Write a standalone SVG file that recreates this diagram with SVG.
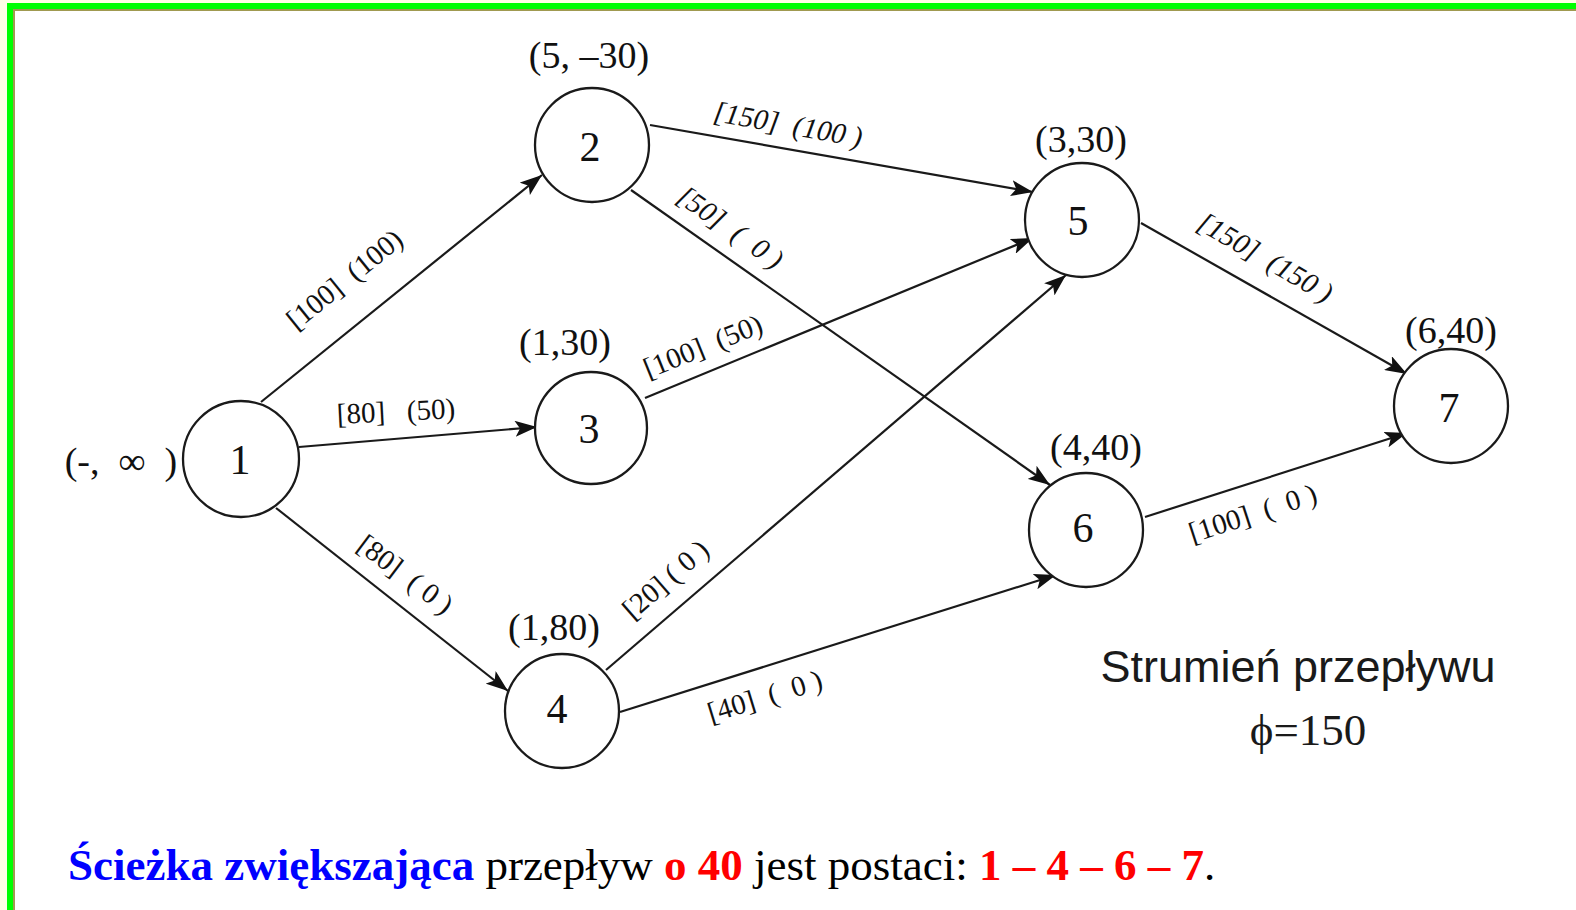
<svg xmlns="http://www.w3.org/2000/svg" width="1576" height="910" viewBox="0 0 1576 910">
<defs>
<style>
.node circle{fill:#fff;stroke:#1a1a1a;stroke-width:2.3}
.num{font-family:"Liberation Serif","Times New Roman",serif;font-size:42px;fill:#111;text-anchor:middle}
.ann{font-family:"Liberation Serif","Times New Roman",serif;font-size:38px;fill:#111;text-anchor:middle}
.el{font-family:"Liberation Serif","Times New Roman",serif;font-size:29px;fill:#111;text-anchor:middle}
.it{font-style:italic}
#edges line{stroke:#1a1a1a;stroke-width:2.2;marker-end:url(#arr)}
</style>
<marker id="arr" markerUnits="userSpaceOnUse" markerWidth="24" markerHeight="16" refX="22" refY="8" orient="auto">
<path d="M0,0 L22,8 L0,16 L5,8 z" fill="#111"/>
</marker>
</defs>
<rect x="0" y="0" width="1576" height="910" fill="#ffffe6"/>
<rect x="7" y="3" width="1569" height="907" fill="#00ff00"/>
<rect x="13" y="9" width="1563" height="901" fill="#a09a50"/>
<rect x="15" y="11" width="1561" height="899" fill="#ffffff"/>

<g id="edges">
<line x1="261" y1="402" x2="542" y2="175"/>
<line x1="299" y1="447" x2="537" y2="427"/>
<line x1="276" y1="508" x2="508" y2="691"/>
<line x1="650" y1="125" x2="1033" y2="192"/>
<line x1="631" y1="190" x2="1050" y2="485"/>
<line x1="645" y1="398" x2="1033" y2="238"/>
<line x1="606" y1="670" x2="1066" y2="275"/>
<line x1="620" y1="712" x2="1056" y2="575"/>
<line x1="1141" y1="223" x2="1407" y2="374"/>
<line x1="1145" y1="517" x2="1407" y2="433"/>
</g>

<g id="edge-labels">
<g transform="translate(345,280) rotate(-39)"><text class="el" x="0" y="9" xml:space="preserve">[100]  (100)</text></g>
<g transform="translate(396,412) rotate(-3)"><text class="el" x="0" y="9" xml:space="preserve">[80]   (50)</text></g>
<g transform="translate(405,575) rotate(37)"><text class="el" x="0" y="9" xml:space="preserve">[80]  ( 0 )</text></g>
<g transform="translate(788,125) rotate(10)"><text class="el it" x="0" y="9" xml:space="preserve">[150]  (100 )</text></g>
<g transform="translate(730,228) rotate(35)"><text class="el it" x="0" y="9" xml:space="preserve">[50]  (  0 )</text></g>
<g transform="translate(703,347) rotate(-22)"><text class="el" x="0" y="9" xml:space="preserve">[100]  (50)</text></g>
<g transform="translate(666,580) rotate(-41)"><text class="el" x="0" y="9" xml:space="preserve">[20] ( 0 )</text></g>
<g transform="translate(765,697) rotate(-17)"><text class="el" x="0" y="9" xml:space="preserve">[40]  (  0 )</text></g>
<g transform="translate(1265,258) rotate(30)"><text class="el it" x="0" y="9" xml:space="preserve">[150]  (150 )</text></g>
<g transform="translate(1253,514) rotate(-18)"><text class="el" x="0" y="9" xml:space="preserve">[100]  (  0 )</text></g>
</g>

<g id="node1" class="node"><circle cx="241" cy="459" r="58"/><text class="num" x="240" y="474">1</text><text class="ann" x="121" y="474" xml:space="preserve">(-,  ∞  )</text></g>
<g id="node2" class="node"><circle cx="592" cy="145" r="57"/><text class="num" x="590" y="161">2</text><text class="ann" x="589" y="68">(5, –30)</text></g>
<g id="node3" class="node"><circle cx="591" cy="428" r="56"/><text class="num" x="589" y="443">3</text><text class="ann" x="565" y="355">(1,30)</text></g>
<g id="node4" class="node"><circle cx="562" cy="711" r="57"/><text class="num" x="557" y="723">4</text><text class="ann" x="554" y="640">(1,80)</text></g>
<g id="node5" class="node"><circle cx="1082" cy="220" r="57"/><text class="num" x="1078" y="235">5</text><text class="ann" x="1081" y="152">(3,30)</text></g>
<g id="node6" class="node"><circle cx="1086" cy="530" r="57"/><text class="num" x="1083" y="542">6</text><text class="ann" x="1096" y="460">(4,40)</text></g>
<g id="node7" class="node"><circle cx="1451" cy="406" r="57"/><text class="num" x="1449" y="422">7</text><text class="ann" x="1451" y="343">(6,40)</text></g>

<g id="caption">
<text x="1298" y="682" font-family="'Liberation Sans',Arial,sans-serif" font-size="45" fill="#1a1a1a" text-anchor="middle">Strumień przepływu</text>
<text x="1308" y="745" font-family="'Liberation Serif','Times New Roman',serif" font-size="45" fill="#1a1a1a" text-anchor="middle">ϕ=150</text>
</g>

<text x="68" y="880" font-family="'Liberation Serif','Times New Roman',serif" font-size="45" fill="#000"><tspan fill="#0000ff" font-weight="bold">Ścieżka zwiększająca</tspan> przepływ <tspan fill="#ff0000" font-weight="bold">o 40</tspan> jest postaci: <tspan fill="#ff0000" font-weight="bold">1 – 4 – 6 – 7</tspan>.</text>
</svg>
